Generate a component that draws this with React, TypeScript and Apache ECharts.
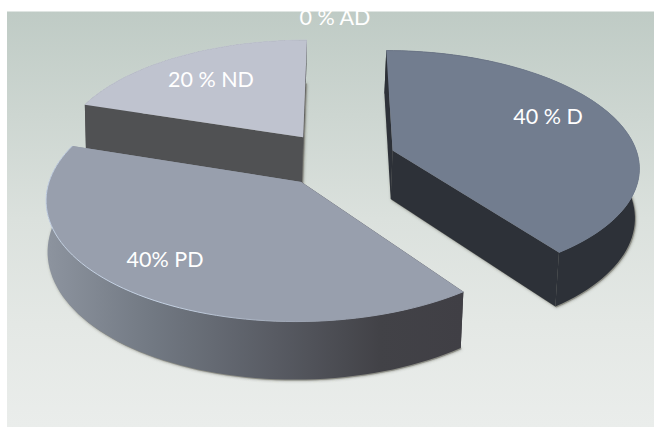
import React, { useEffect, useRef } from "react";
import * as echarts from "echarts";

// Shares of the exploded 3D pie, clockwise from twelve o'clock.
const sliceNames = ["D", "AD", "PD", "ND"];
const sliceShares = [40, 0, 40, 20];
const sliceLabels = ["40 % D", "0 % AD", "40% PD", "20 % ND"];

// Per-slice appearance.
const topColors = ["#727d8f", "#8f97a5", "#989fad", "#bfc3cf"];
const rimColors = ["#6b7587", "#8f97a5", "#c3d0e2", "#bfc3cf"];
const sideStops = [
  [[0, "#2d3138"], [1, "#2d3138"]],
  [[0, "#555"], [1, "#555"]],
  [[0, "#8d949f"], [0.25, "#727983"], [0.55, "#585b63"], [0.8, "#424247"], [1, "#403f45"]],
  [[0, "#505153"], [1, "#505153"]],
];

// Label anchors on the pie's ground plane (unit disc coordinates).
const labelSpots = [
  [0.902, -0.393],
  [-0.01, -1.47],
  [-0.628, 0.782],
  [-0.5635, -0.77],
];

// Camera and extrusion of the pie.
const CX = 337;
const CY = 159;
const RX = 246;
const RY = 115;
const PERSPECTIVE = 0.13;
const EXPLODE = 0.24;
const THICKNESS = 49;
const FLOOR_SCALE = 0.99;
const FLOOR_PIVOT_X = 200;
const ARC_STEP = Math.PI / 90;

const total = sliceShares.reduce((a, b) => a + b, 0);
const toAngle = (share: number) => echarts.number.linearMap(share, [0, total], [0, Math.PI * 2]);

// Ground-plane point to screen, on the top face (lift 0) or on the floor (lift 1).
function project(u: number, v: number, lift = 0): number[] {
  const k = 1 / (1 - PERSPECTIVE * v);
  const x = CX + RX * u * k;
  const y = CY + RY * v * k + lift * THICKNESS * k;
  return [lift ? FLOOR_PIVOT_X + (x - FLOOR_PIVOT_X) * FLOOR_SCALE : x, y];
}

function sliceGeometry(index: number) {
  const before = sliceShares.slice(0, index).reduce((a, b) => a + b, 0);
  const start = toAngle(before);
  const end = toAngle(before + sliceShares[index]);
  const mid = (start + end) / 2;
  const ou = EXPLODE * Math.sin(mid);
  const ov = -EXPLODE * Math.cos(mid);
  const rim: number[][] = [];
  const steps = Math.max(1, Math.ceil((end - start) / ARC_STEP));
  for (let i = 0; i <= steps; i++) {
    const a = start + ((end - start) * i) / steps;
    rim.push([ou + Math.sin(a), ov - Math.cos(a)]);
  }
  return { apex: [ou, ov], rim };
}

function renderSlice(params: any, api: any) {
  const index = params.dataIndex;
  const share = api.value(0);
  const [lu, lv] = labelSpots[index];
  const [lx, ly] = project(lu, lv);
  const children: any[] = [
    {
      type: "text",
      z2: 1000,
      style: {
        x: lx,
        y: ly,
        text: sliceLabels[index],
        fill: "#ffffff",
        font: '21.5px Lato, sans-serif',
        textAlign: "center",
        textVerticalAlign: "middle",
      },
    },
  ];
  if (share <= 0) return { type: "group", children };

  const { apex, rim } = sliceGeometry(index);
  const [au, av] = apex;
  const depth = Math.round(project(au, av)[1]);
  const topRim = rim.map(([u, v]) => project(u, v));
  const floorRim = rim.map(([u, v]) => project(u, v, 1));
  const topApex = project(au, av);
  const floorApex = project(au, av, 1);
  const last = rim.length - 1;
  const sideFill = {
    type: "linear",
    x: 0,
    y: 0,
    x2: 1,
    y2: 0,
    colorStops: sideStops[index].map(([offset, color]) => ({ offset, color })),
  };
  const solidSide = sideStops[index][0][1] as string;
  const endSide = sideStops[index][sideStops[index].length - 1][1] as string;

  children.push(
    // soft contact shadow under the solid
    {
      type: "polygon",
      z2: depth,
      shape: { points: [floorApex, ...floorRim].map(([x, y]) => [x + 1, y + 1]) },
      style: {
        fill: "#8c8d85",
        shadowBlur: 3,
        shadowColor: "rgba(70,70,60,0.6)",
      },
    },
    // radial walls
    {
      type: "polygon",
      z2: depth + 0.1,
      shape: { points: [topApex, topRim[0], floorRim[0], floorApex] },
      style: { fill: endSide },
    },
    {
      type: "polygon",
      z2: depth + 0.1,
      shape: { points: [topApex, topRim[last], floorRim[last], floorApex] },
      style: { fill: solidSide },
    },
    // curved wall
    {
      type: "polygon",
      z2: depth + 0.2,
      shape: { points: [...topRim, ...floorRim.slice().reverse()] },
      style: { fill: sideFill },
    },
    // top face
    {
      type: "polygon",
      z2: depth + 0.3,
      shape: { points: [topApex, ...topRim] },
      style: { fill: topColors[index] },
    },
    // highlight on the top face's edge
    {
      type: "polyline",
      z2: depth + 0.4,
      shape: { points: topRim },
      style: {
        fill: null,
        lineWidth: 1,
        stroke: {
          type: "linear",
          x: 1,
          y: 0,
          x2: 0,
          y2: 0,
          colorStops: [
            { offset: 0, color: topColors[index] },
            { offset: 0.35, color: topColors[index] },
            { offset: 0.7, color: rimColors[index] },
            { offset: 1, color: rimColors[index] },
          ],
        },
      },
    }
  );
  return { type: "group", children };
}

export default function App() {
  const ref = useRef<HTMLDivElement>(null);
  useEffect(() => {
    document.body.style.margin = "0";
    document.body.style.overflow = "hidden";
    const chart = echarts.init(ref.current!, undefined, { renderer: "svg" });
    chart.setOption({
      animation: false,
      backgroundColor: "#ffffff",
      graphic: [
        {
          type: "rect",
          silent: true,
          shape: { x: 7, y: 11.5, width: 647, height: 415.5 },
          style: {
            fill: {
              type: "linear",
              x: 0,
              y: 0,
              x2: 0,
              y2: 1,
              colorStops: [
                { offset: 0, color: "#bfcbc5" },
                { offset: 0.25, color: "#cdd6d1" },
                { offset: 0.5, color: "#dbe1dd" },
                { offset: 0.75, color: "#e4e8e5" },
                { offset: 1, color: "#eaedeb" },
              ],
            },
          },
        },
      ],
      series: [
        {
          type: "custom",
          name: "Share",
          coordinateSystem: "none",
          silent: true,
          renderItem: renderSlice,
          data: sliceShares.map((value, i) => ({ name: sliceNames[i], value: [value] })),
        },
      ],
    });
    return () => chart.dispose();
  }, []);
  return <div ref={ref} style={{ position: "absolute", left: 0, top: 0, width: 654, height: 427 }} />;
}
